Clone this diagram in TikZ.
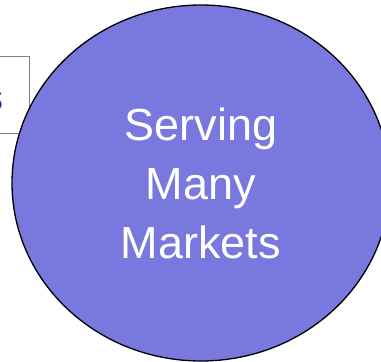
\documentclass[tikz,border=0pt]{standalone}
\usepackage{fontspec}
\setmainfont{Liberation Sans}
\usetikzlibrary{shapes.geometric}
\definecolor{ellfill}{RGB}{120,120,222}
\definecolor{boxline}{RGB}{128,128,128}
\definecolor{labelblue}{RGB}{40,40,175}
\begin{document}
\begin{tikzpicture}[x=1pt,y=-1pt,
  sidebox/.style={draw=boxline,fill=white,line width=1pt},
  market/.style={draw=black,fill=ellfill,line width=1.3pt},
  bigtext/.style={text=white,align=center,font=\fontsize{45}{59}\selectfont}]
\useasboundingbox (0,0) rectangle (381,362);
\node[sidebox,minimum width=40pt,minimum height=77pt,inner sep=0pt] (box) at (9,94.5) {};
\node[anchor=base east,inner sep=0pt,text=labelblue,font=\fontsize{38}{44}\selectfont] (lbl) at (4,110) {s};
\node[market,ellipse,minimum width=378pt,minimum height=356pt,inner sep=0pt] (ell) at (201,183) {};
\node[bigtext] (txt) at (201,183) {Serving\\Many\\Markets};
\end{tikzpicture}
\end{document}
